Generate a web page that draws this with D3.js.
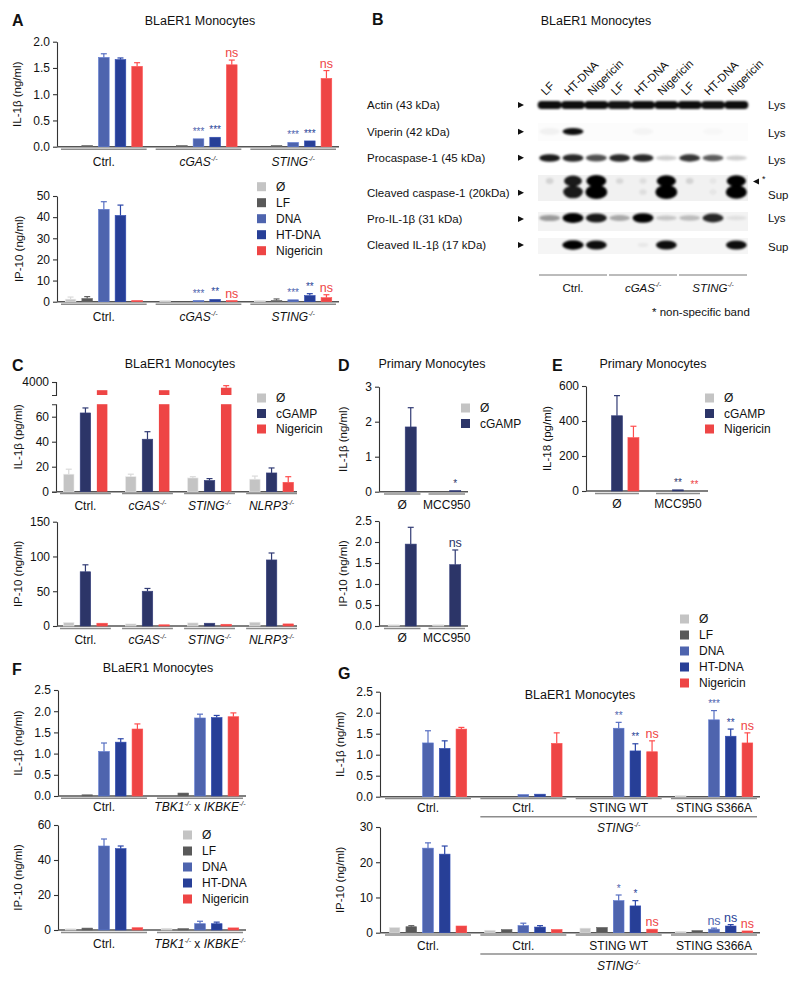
<!DOCTYPE html>
<html><head><meta charset="utf-8">
<script src="https://cdn.jsdelivr.net/npm/d3@7"></script>
<style>body{margin:0;background:#fff}svg{display:block;font-family:"Liberation Sans",Arial,Helvetica,sans-serif}text{white-space:pre}</style>
</head><body><svg id="fig" width="800" height="981"></svg>
<script>
// ---------------- DATA ----------------
const dnaSeries = ["Ø","LF","DNA","HT-DNA","Nigericin"];
const cgamp3Series = ["Ø","cGAMP","Nigericin"];
const cgamp2Series = ["Ø","cGAMP"];

// Panel A
const groupsA = ["Ctrl.","cGAS-/-","STING-/-"];
const aIL1b    = [[0,0.005,1.70,1.66,1.53],[0,0.01,0.15,0.18,1.56],[0,0.01,0.08,0.11,1.30]];
const aIL1bErr = [[0,0.005,1.77,1.69,1.60],[0,0.01,0.16,0.19,1.65],[0,0.01,0.09,0.12,1.45]];
const aIL1bSig = [["","","","",""],["","","***","***","ns"],["","","***","***","ns"]];
const aIP10    = [[1.2,1.5,43.7,40.8,0.3],[0.2,0,0.6,1.1,0.3],[0.3,0.6,0.9,2.9,1.9]];
const aIP10Err = [[2.2,2.4,47.3,45.7,0.3],[0.2,0,0.8,1.4,0.3],[0.5,1.3,1.2,3.8,3.3]];
const aIP10Sig = [["","","","",""],["","","***","**","ns"],["","","***","**","ns"]];

// Panel B (western blot)
const blotLanes = ["LF","HT-DNA","Nigericin","LF","HT-DNA","Nigericin","LF","HT-DNA","Nigericin"];
const blotGroups = ["Ctrl.","cGAS-/-","STING-/-"];
const blotRows = ["Actin (43 kDa)","Viperin (42 kDa)","Procaspase-1 (45 kDa)","Cleaved caspase-1 (20kDa)","Pro-IL-1β (31 kDa)","Cleaved IL-1β (17 kDa)"];
const blotFractions = ["Lys","Lys","Lys","Sup","Lys","Sup"];
const bandActin     = [0.95,0.95,0.95,0.92,0.95,0.95,0.95,0.93,0.95];
const bandViperin   = [0.04,0.9,0,0,0.03,0,0,0.02,0];
const bandProcasp   = [0.85,0.8,0.65,0.8,0.8,0.18,0.75,0.6,0.18];
const bandCaspUpper = [0.12,0.85,1,0.1,0.08,0.95,0.12,0.05,0.95];
const bandCaspLower = [0,0.85,1,0,0.08,1,0,0.05,0.95];
const bandProIL1b   = [0.35,1,0.85,0.3,0.95,0.18,0.22,0.8,0.08];
const bandIL1b      = [0,0.95,0.9,0,0.05,0.9,0,0,0.9];

// Panel C
const groupsC = ["Ctrl.","cGAS-/-","STING-/-","NLRP3-/-"];
const cIL1b    = [[14,63,3370],[12,42,3370],[11,9,3560]
                 ,[10,15,7.5]];
const cIL1bErr = [[18,67,3370],[14,48,3370],[12,10.5,3720],[12.5,19,12]];
const cIP10    = [[5,78,4],[3,50,1],[4.5,4,2.5],[5.5,95,3]];
const cIP10Err = [[5,88,4],[3,54,1],[4.5,5,2.5],[5.5,105,3]];

// Panel D
const groupsD = ["Ø","MCC950"];
const dIL1b    = [[0,1.85],[0,0.03]];
const dIL1bErr = [[0,2.4],[0,0.03]];
const dIL1bSig = [["",""],["","*"]];
const dIP10    = [[0.01,1.95],[0.03,1.46]];
const dIP10Err = [[0.01,2.35],[0.03,1.81]];
const dIP10Sig = [["",""],["","ns"]];

// Panel E
const groupsE = ["Ø","MCC950"];
const eIL18    = [[0,430,305],[0,3,0]];
const eIL18Err = [[0,545,370],[0,3,0]];
const eIL18Sig = [["","",""],["","**","**"]];

// Panel F
const groupsF = ["Ctrl.","TBK1-/- x IKBKE-/-"];
const fIL1b    = [[0,0.005,1.05,1.27,1.58],[0,0.07,1.84,1.85,1.87]];
const fIL1bErr = [[0,0.005,1.25,1.35,1.70],[0,0.07,1.93,1.90,1.96]];
const fIP10    = [[0.6,1.1,48,46.5,1.3],[1.0,0.8,3.6,3.6,1.2]];
const fIP10Err = [[0.8,1.4,52,48,1.4],[1.3,1.0,5,4.5,1.3]];

// Panel G
const groupsG = ["Ctrl.","Ctrl.","STING WT","STING S366A"];
const spanLabelG = "STING-/-";
const gIL1b    = [[0,0,1.28,1.15,1.61],[0,0,0.05,0.06,1.27],[0,0,1.63,1.09,1.07],[0.01,0,1.83,1.44,1.28]];
const gIL1bErr = [[0,0,1.57,1.33,1.65],[0,0,0.05,0.07,1.52],[0,0,1.77,1.26,1.33],[0.01,0,2.05,1.61,1.52]];
const gIL1bSig = [["","","","",""],["","","","",""],["","","**","**","ns"],["","","***","**","ns"]];
const gIP10    = [[1.5,1.7,24,22.3,1.9],[0.7,0.9,2.0,1.6,0.9],[1.3,1.5,9.1,7.6,1.0],[0.4,0.6,1.0,1.9,0.5]];
const gIP10Err = [[1.6,2.0,25.5,24.6,1.9],[0.8,1.0,2.7,2.0,0.9],[1.4,1.7,10.7,9.1,1.0],[0.5,0.7,1.3,2.3,0.5]];
const gIP10Sig = [["","","","",""],["","","","",""],["","","*","*","ns"],["","","ns","ns","ns"]];

// ---------------- STYLE ----------------
const COL = {"Ø":"#c4c4c4","LF":"#595959","DNA":"#4e64ae","HT-DNA":"#273f97","Nigericin":"#ee4545","cGAMP":"#2c3568"};
const svg = d3.select("#fig");
const defs = svg.append("defs");
defs.append("filter").attr("id","blur").attr("x","-30%").attr("y","-60%").attr("width","160%").attr("height","220%")
  .append("feGaussianBlur").attr("stdDeviation",0.9);

function rich(t, str, supSize){
  const re = /([A-Za-z0-9]+)-\/-/g;
  let last = 0, m; const parts = [];
  while((m = re.exec(str))){
    if(m.index > last) parts.push({t:str.slice(last,m.index)});
    parts.push({t:m[1], it:true}); parts.push({t:"-/-", sup:true});
    last = re.lastIndex;
  }
  if(last < str.length) parts.push({t:str.slice(last)});
  let prevSup = false;
  parts.forEach(p=>{
    const ts = t.append("tspan").text(p.t);
    if(p.it) ts.attr("font-style","italic");
    if(p.sup){ ts.attr("font-size",supSize||7).attr("font-style","italic").attr("dy",-5); prevSup = true; }
    else if(prevSup){ ts.attr("dy",5); prevSup = false; }
  });
  return t;
}
function txt(x,y,s,size,anchor,extra){
  const t = svg.append("text").attr("x",x).attr("y",y).attr("font-size",size).attr("fill","#111")
    .attr("text-anchor",anchor||"start");
  if(extra) extra(t);
  return t.text(s);
}
function styleAxis(ag){
  ag.select(".domain").attr("stroke","#333").attr("stroke-width",1.1);
  ag.selectAll(".tick line").attr("stroke","#333").attr("stroke-width",1.1);
  ag.selectAll(".tick text").attr("font-size",12).attr("fill","#111").attr("font-family","Liberation Sans, Arial, sans-serif");
}

function barChart(o){
  const g = svg.append("g");
  const y = d3.scaleLinear().domain(o.domain).range([o.yBottom,o.yTop]);
  const yU = o.brk ? d3.scaleLinear().domain(o.brk.domain).range([o.brk.bottom,o.brk.top]) : null;
  const gx = d3.scaleBand().domain(d3.range(o.groups.length)).range([o.gx0,o.gx1]).paddingInner(o.gpad).paddingOuter(0);
  const sx = d3.scaleBand().domain(o.series).range([0,gx.bandwidth()]).paddingInner(o.spIn).paddingOuter(o.spOut);
  const ag = g.append("g").attr("transform",`translate(${o.axisX},0)`)
    .call(d3.axisLeft(y).tickValues(o.ticks).tickFormat(o.fmt).tickSize(4).tickPadding(3).tickSizeOuter(o.brk?4:0));
  styleAxis(ag);
  if(o.brk){
    const ag2 = g.append("g").attr("transform",`translate(${o.axisX},0)`)
      .call(d3.axisLeft(yU).tickValues(o.brk.ticks).tickFormat(d3.format("d")).tickSize(4).tickPadding(3).tickSizeOuter(4));
    styleAxis(ag2);
  }
  // baseline
  g.append("line").attr("x1",o.axisX).attr("x2",o.axisEnd).attr("y1",o.yBottom).attr("y2",o.yBottom)
    .attr("stroke","#555").attr("stroke-width",1.4);
  // bars
  o.values.forEach((row,gi)=>row.forEach((v,si)=>{
    const name = o.series[si], c = COL[name];
    const x = gx(gi)+sx(name), w = sx.bandwidth(), cx = x + w/2;
    const e = o.errs[gi][si];
    let barTop, errTop;
    if(o.brk && v > o.domain[1]){
      g.append("rect").attr("x",x).attr("y",y(o.domain[1])).attr("width",w).attr("height",o.yBottom-y(o.domain[1])).attr("fill",c);
      g.append("rect").attr("x",x).attr("y",yU(v)).attr("width",w).attr("height",o.brk.bottom-yU(v)).attr("fill",c);
      barTop = yU(v); errTop = yU(Math.max(e,v));
    } else {
      barTop = y(v);
      let h = o.yBottom - barTop;
      if(v > 0 && h < 1.2){ h = 1.2; barTop = o.yBottom - h; }
      if(v > 0) g.append("rect").attr("x",x).attr("y",barTop).attr("width",w).attr("height",h)
        .attr("fill",c).attr("stroke",d3.color(c).brighter(0.5)).attr("stroke-width",0.6);
      errTop = Math.min(barTop, y(Math.max(e,v)));
    }
    if(barTop - errTop > 0.8){
      const ec = d3.color(c).brighter(0.3);
      g.append("line").attr("x1",cx).attr("x2",cx).attr("y1",barTop).attr("y2",errTop).attr("stroke",ec).attr("stroke-width",1.2);
      g.append("line").attr("x1",cx-3).attr("x2",cx+3).attr("y1",errTop).attr("y2",errTop).attr("stroke",ec).attr("stroke-width",1.2);
    }
    const s = o.sig ? o.sig[gi][si] : "";
    if(s){
      const isNs = s === "ns";
      g.append("text").attr("x",cx).attr("y",isNs ? errTop-3 : errTop-3.5).attr("text-anchor","middle")
        .attr("font-size",isNs?12.5:10).attr("fill",c).text(s);
    }
  }));
  // group underline + labels
  o.groups.forEach((lab,gi)=>{
    g.append("line").attr("x1",gx(gi)).attr("x2",gx(gi)+gx.bandwidth()).attr("y1",o.ulY).attr("y2",o.ulY)
      .attr("stroke","#8c8c8c").attr("stroke-width",1.4);
    rich(g.append("text").attr("x",gx(gi)+gx.bandwidth()/2).attr("y",o.lblY).attr("text-anchor","middle")
      .attr("font-size",12).attr("fill","#111"), lab, 7);
  });
  if(o.span){
    const x1 = gx(o.span.from), x2 = gx(o.span.to)+gx.bandwidth();
    g.append("line").attr("x1",x1).attr("x2",x2).attr("y1",o.span.y).attr("y2",o.span.y).attr("stroke","#8c8c8c").attr("stroke-width",1.4);
    rich(g.append("text").attr("x",(x1+x2)/2).attr("y",o.span.lblY).attr("text-anchor","middle")
      .attr("font-size",12).attr("fill","#111"), o.span.label, 7);
  }
  // y label
  const top = o.brk ? o.brk.top : o.yTop;
  g.append("text").attr("transform",`translate(${o.ylabX},${(top+o.yBottom)/2}) rotate(-90)`)
    .attr("text-anchor","middle").attr("font-size",11.5).attr("fill","#111").text(o.ylabel);
}

function legend(x, y0, items, step){
  items.forEach((it,i)=>{
    svg.append("rect").attr("x",x).attr("y",y0+i*step-4.5).attr("width",9).attr("height",9).attr("fill",COL[it]);
    svg.append("text").attr("x",x+19).attr("y",y0+i*step+4.3).attr("font-size",12).attr("fill","#111").text(it);
  });
}
function panelLetter(x,y,s){ svg.append("text").attr("x",x).attr("y",y).attr("font-size",16).attr("font-weight","bold").attr("fill","#111").text(s); }
function title(x,y,s){ svg.append("text").attr("x",x).attr("y",y).attr("text-anchor","middle").attr("font-size",12.5).attr("fill","#111").text(s); }

const f1 = d3.format(".1f"), fd = d3.format("d");

// ---------------- PANEL A ----------------
panelLetter(12,26,"A"); title(200,25,"BLaER1 Monocytes");
barChart({groups:groupsA, series:dnaSeries, values:aIL1b, errs:aIL1bErr, sig:aIL1bSig,
  domain:[0,2], ticks:[0,0.5,1,1.5,2], fmt:f1, yTop:41.7, yBottom:146.7, axisX:57, axisEnd:339,
  gx0:61, gx1:336, gpad:0.095, spIn:0.36, spOut:0.255, ulY:149.3, lblY:165.5, ylabX:21, ylabel:"IL-1β (ng/ml)"});
barChart({groups:groupsA, series:dnaSeries, values:aIP10, errs:aIP10Err, sig:aIP10Sig,
  domain:[0,50], ticks:[0,10,20,30,40,50], fmt:fd, yTop:196, yBottom:301.7, axisX:57, axisEnd:339,
  gx0:61, gx1:336, gpad:0.095, spIn:0.36, spOut:0.255, ulY:304.2, lblY:321, ylabX:23, ylabel:"IP-10 (ng/ml)"});
legend(257, 186.7, dnaSeries, 16);

// ---------------- PANEL B ----------------
panelLetter(372,25,"B"); title(596,25,"BLaER1 Monocytes");
(function(){
  const lx = d3.scaleBand().domain(d3.range(blotLanes.length)).range([538,748]);
  const st = lx.step();
  const rowY = [105,131.7,157.7,192.7,219,245];
  const fracY = [105,133,160,195,218,247];
  // lane labels
  blotLanes.forEach((l,i)=>{
    const cx = lx(i)+st/2;
    svg.append("text").attr("transform",`translate(${cx-4},${96}) rotate(-45)`).attr("font-size",11.5).attr("fill","#111").text(l);
  });
  // strip backgrounds
  [[175,201,"#f1f1f1"],[212,231,"#f3f3f3"],[238,254,"#f5f5f5"],[123,141,"#fcfcfc"]].forEach(b=>{
    svg.append("rect").attr("x",538).attr("y",b[0]).attr("width",210).attr("height",b[1]-b[0]).attr("fill",b[2]);
  });
  const bands = svg.append("g").attr("filter","url(#blur)");
  bandActin.forEach((v,i)=>bands.append("rect").attr("x",lx(i)-0.3).attr("y",101).attr("width",st+0.6).attr("height",8).attr("rx",4).attr("fill","#000").attr("opacity",v));
  const ell = (arr,cy,rxf,ryf)=>arr.forEach((v,i)=>{ if(v<=0.01) return;
    bands.append("ellipse").attr("cx",lx(i)+st/2).attr("cy",cy).attr("rx",rxf(v)).attr("ry",ryf(v)).attr("fill","#000").attr("opacity",Math.min(1,v*1.05)); });
  ell(bandViperin,131.5,v=>10.5,v=>3.5);
  ell(bandProcasp,158,v=>10.5,v=>2+2.2*v);
  ell(bandCaspUpper,181,v=>3+7*v,v=>2.5+3.5*v);
  ell(bandCaspLower,192,v=>3+8*v,v=>2.5+4.5*v);
  ell(bandProIL1b,218,v=>10.5,v=>2+3*v);
  ell(bandIL1b,245,v=>5+6*v,v=>2+2.8*v);
  // row labels, arrows, fractions
  blotRows.forEach((r,i)=>{
    svg.append("text").attr("x",367).attr("y",rowY[i]+4).attr("font-size",11.5).attr("fill","#111").text(r);
    svg.append("path").attr("d",`M518,${rowY[i]-3}L524,${rowY[i]}L518,${rowY[i]+3}Z`).attr("fill","#111");
    svg.append("text").attr("x",768).attr("y",fracY[i]+4).attr("font-size",11.5).attr("fill","#111").text(blotFractions[i]);
  });
  svg.append("path").attr("d","M753,181.5L759,178.5L759,184.5Z").attr("fill","#111");
  svg.append("text").attr("x",762).attr("y",182).attr("font-size",9).attr("fill","#111").text("*");
  blotGroups.forEach((gname,gi)=>{
    const x1 = lx(gi*3)+1, x2 = lx(gi*3+2)+st-1;
    svg.append("line").attr("x1",x1).attr("x2",x2).attr("y1",275).attr("y2",275).attr("stroke","#555").attr("stroke-width",0.8);
    rich(svg.append("text").attr("x",(x1+x2)/2).attr("y",292).attr("text-anchor","middle").attr("font-size",11.5).attr("fill","#111"), gname, 6.5);
  });
  svg.append("text").attr("x",652).attr("y",316).attr("font-size",11.5).attr("fill","#111").text("* non-specific band");
})();

// ---------------- PANEL C ----------------
panelLetter(12,371,"C"); title(180,368,"BLaER1 Monocytes");
barChart({groups:groupsC, series:cgamp3Series, values:cIL1b, errs:cIL1bErr,
  domain:[0,70], ticks:[0,20,40,60], fmt:fd, yTop:404.2, yBottom:491.7, axisX:56, axisEnd:297,
  brk:{domain:[3000,4000], top:382, bottom:395, ticks:[4000]},
  gx0:60, gx1:297, gpad:0.18, spIn:0.37, spOut:0.21, ulY:493.5, lblY:509.5, ylabX:22, ylabel:"IL-1β (pg/ml)"});
barChart({groups:groupsC, series:cgamp3Series, values:cIP10, errs:cIP10Err,
  domain:[0,150], ticks:[0,50,100,150], fmt:fd, yTop:521.7, yBottom:626, axisX:57, axisEnd:297,
  gx0:60, gx1:297, gpad:0.18, spIn:0.37, spOut:0.21, ulY:628.5, lblY:644, ylabX:22, ylabel:"IP-10 (ng/ml)"});
legend(257, 398, cgamp3Series, 15.5);

// ---------------- PANEL D ----------------
panelLetter(338,371,"D"); title(432,368,"Primary Monocytes");
barChart({groups:groupsD, series:cgamp2Series, values:dIL1b, errs:dIL1bErr, sig:dIL1bSig,
  domain:[0,3], ticks:[0,1,2,3], fmt:fd, yTop:386.7, yBottom:491.7, axisX:379, axisEnd:468,
  gx0:384, gx1:465, gpad:0.18, spIn:0.35, spOut:0.25, ulY:494, lblY:508.5, ylabX:347, ylabel:"IL-1β (ng/ml)"});
barChart({groups:groupsD, series:cgamp2Series, values:dIP10, errs:dIP10Err, sig:dIP10Sig,
  domain:[0,2.5], ticks:[0,0.5,1,1.5,2,2.5], fmt:f1, yTop:521, yBottom:626, axisX:379, axisEnd:468,
  gx0:384, gx1:465, gpad:0.18, spIn:0.35, spOut:0.25, ulY:628.5, lblY:642, ylabX:347, ylabel:"IP-10 (ng/ml)"});
legend(461, 408, cgamp2Series, 15.5);

// ---------------- PANEL E ----------------
panelLetter(552,371,"E"); title(653,368,"Primary Monocytes");
barChart({groups:groupsE, series:cgamp3Series, values:eIL18, errs:eIL18Err, sig:eIL18Sig,
  domain:[0,600], ticks:[0,200,400,600], fmt:fd, yTop:386, yBottom:491, axisX:586, axisEnd:708,
  gx0:595, gx1:700, gpad:0.28, spIn:0.33, spOut:0, ulY:493.5, lblY:507.5, ylabX:551, ylabel:"IL-18 (pg/ml)"});
legend(705, 398, cgamp3Series, 15.5);

// ---------------- PANEL F ----------------
panelLetter(12,675,"F"); title(158,672,"BLaER1 Monocytes");
barChart({groups:groupsF, series:dnaSeries, values:fIL1b, errs:fIL1bErr,
  domain:[0,2.5], ticks:[0,0.5,1,1.5,2,2.5], fmt:f1, yTop:690, yBottom:796, axisX:58, axisEnd:246,
  gx0:61, gx1:243, gpad:0.104, spIn:0.36, spOut:0.255, ulY:798.3, lblY:811, ylabX:22, ylabel:"IL-1β (ng/ml)"});
barChart({groups:groupsF, series:dnaSeries, values:fIP10, errs:fIP10Err,
  domain:[0,60], ticks:[0,20,40,60], fmt:fd, yTop:825, yBottom:930, axisX:58, axisEnd:246,
  gx0:61, gx1:243, gpad:0.104, spIn:0.36, spOut:0.255, ulY:932.5, lblY:947.5, ylabX:22, ylabel:"IP-10 (ng/ml)"});
legend(183, 835, dnaSeries, 16);

// ---------------- PANEL G ----------------
panelLetter(338,679,"G"); title(580,699,"BLaER1 Monocytes");
barChart({groups:groupsG, series:dnaSeries, values:gIL1b, errs:gIL1bErr, sig:gIL1bSig,
  domain:[0,2.5], ticks:[0,0.5,1,1.5,2,2.5], fmt:f1, yTop:691.7, yBottom:796.7, axisX:380, axisEnd:760,
  gx0:385, gx1:757, gpad:0.098, spIn:0.36, spOut:0.255, ulY:798.6, lblY:811.5, ylabX:344, ylabel:"IL-1β (ng/ml)",
  span:{from:1,to:3,y:816.7,lblY:831.5,label:spanLabelG}});
barChart({groups:groupsG, series:dnaSeries, values:gIP10, errs:gIP10Err, sig:gIP10Sig,
  domain:[0,30], ticks:[0,10,20,30], fmt:fd, yTop:827, yBottom:932.7, axisX:380, axisEnd:760,
  gx0:385, gx1:757, gpad:0.098, spIn:0.36, spOut:0.255, ulY:935, lblY:949.5, ylabX:344, ylabel:"IP-10 (ng/ml)",
  span:{from:1,to:3,y:954,lblY:970,label:spanLabelG}});
legend(680, 619, dnaSeries, 16);
</script></body></html>
